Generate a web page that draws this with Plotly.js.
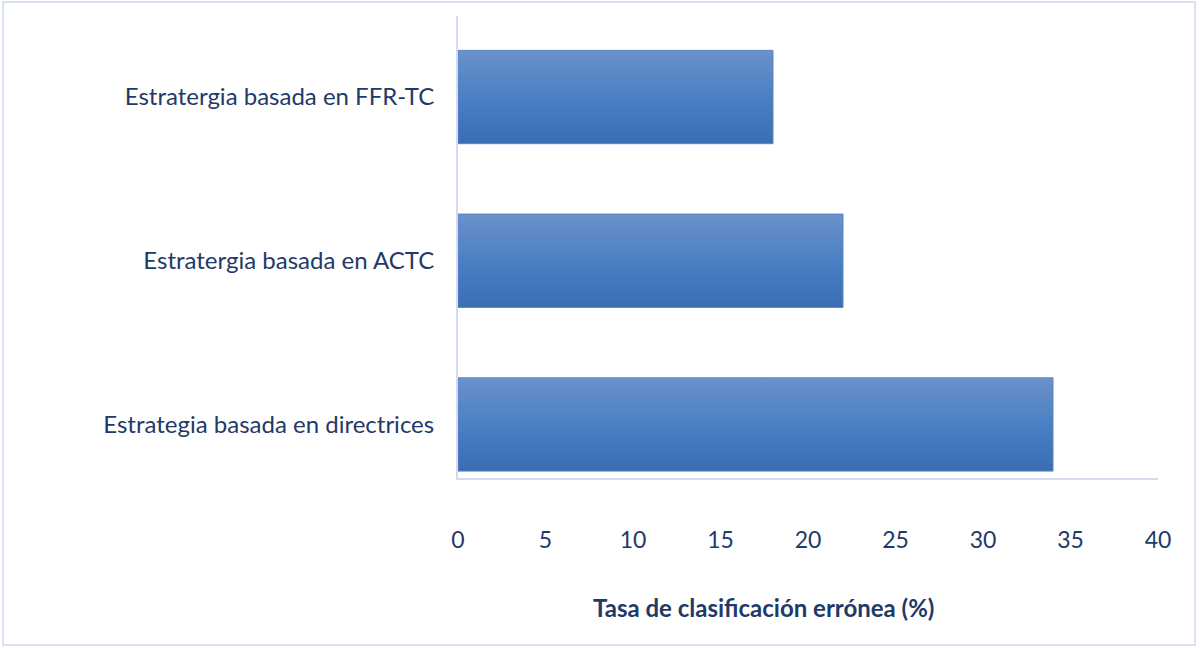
<!DOCTYPE html>
<html>
<head>
<meta charset="utf-8">
<script src="https://cdn.plot.ly/plotly-3.0.1.min.js"></script>
<style>
html,body{margin:0;padding:0;background:#fff;}
#chart{width:1200px;height:648px;}
</style>
</head>
<body>
<div id="chart"></div>
<script>
const categories = ["Estrategia basada en directrices", "Estratergia basada en ACTC", "Estratergia basada en FFR-TC"];
const values = [34, 22, 18];
const xTicks = [0, 5, 10, 15, 20, 25, 30, 35, 40];
const xTitle = "Tasa de clasificación errónea (%)";

const textColor = "#1f3a68";
const axisLine = "#d3dcee";

const trace = {
  type: "bar",
  orientation: "h",
  x: values,
  y: categories,
  width: 0.57,
  marker: { color: "#4a7cc0", line: { color: "#5a86c4", width: 1 } },
  hoverinfo: "x+y"
};

const pw = 700, ph = 462, L = 458, T = 16;
const px = v => (v - L) / pw;
const py = v => 1 - (v - T) / ph;

const layout = {
  width: 1200,
  height: 648,
  paper_bgcolor: "#ffffff",
  plot_bgcolor: "#ffffff",
  margin: { l: L, r: 1200 - L - pw, t: T, b: 648 - T - ph },
  showlegend: false,
  font: { family: "Lato, 'Open Sans', sans-serif", color: textColor },
  xaxis: {
    range: [0, 40],
    tickvals: xTicks,
    ticktext: xTicks.map(String),
    showgrid: false,
    zeroline: false,
    showline: true,
    linecolor: axisLine,
    linewidth: 2,
    ticks: "",
    ticklabelstandoff: 40,
    tickfont: { size: 23, color: textColor },
    fixedrange: true
  },
  yaxis: {
    type: "category",
    categoryorder: "array",
    categoryarray: categories,
    range: [-0.327, 2.495],
    showgrid: false,
    zeroline: false,
    showline: true,
    linecolor: axisLine,
    linewidth: 2,
    ticks: "",
    ticklabelstandoff: 17,
    tickfont: { size: 24, color: textColor },
    fixedrange: true
  },
  annotations: [
    { text: xTitle, xref: "paper", yref: "paper", x: px(763), y: py(607),
      xanchor: "center", yanchor: "middle", showarrow: false,
      font: { size: 24, color: textColor, weight: "bold" } }
  ],
  shapes: [
    { type: "rect", xref: "paper", yref: "paper",
      x0: px(3), x1: px(1195), y0: py(645), y1: py(2),
      line: { color: "#d9e1ef", width: 2 }, fillcolor: "rgba(0,0,0,0)", layer: "below" }
  ]
};

Plotly.newPlot("chart", [trace], layout, { displayModeBar: false, staticPlot: true }).then(gd => {
  const svg = gd.querySelector("svg.main-svg");
  const ns = "http://www.w3.org/2000/svg";
  let defs = svg.querySelector("defs");
  if (!defs) { defs = document.createElementNS(ns, "defs"); svg.insertBefore(defs, svg.firstChild); }
  const grad = document.createElementNS(ns, "linearGradient");
  grad.setAttribute("id", "barGrad");
  grad.setAttribute("x1", "0"); grad.setAttribute("y1", "0");
  grad.setAttribute("x2", "0"); grad.setAttribute("y2", "1");
  [["0", "#6b91ca"], ["0.5", "#4b80c4"], ["1", "#3a6db2"]].forEach(([o, c]) => {
    const s = document.createElementNS(ns, "stop");
    s.setAttribute("offset", o); s.setAttribute("stop-color", c);
    grad.appendChild(s);
  });
  defs.appendChild(grad);
  gd.querySelectorAll(".bars .point path").forEach(p => { p.style.fill = "url(#barGrad)"; });
});
</script>
</body>
</html>
